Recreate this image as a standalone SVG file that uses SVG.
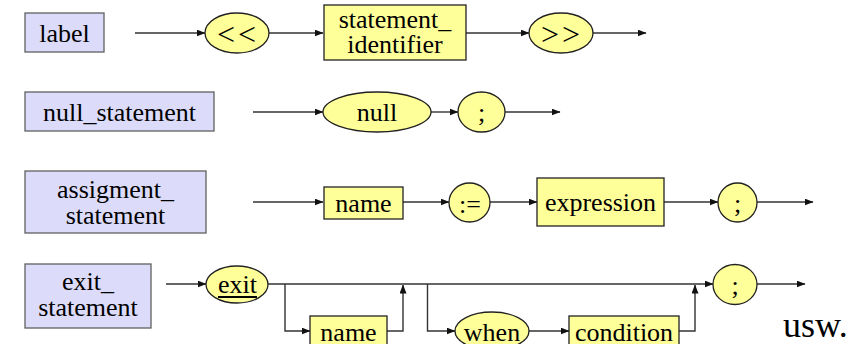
<svg xmlns="http://www.w3.org/2000/svg" width="866" height="344" viewBox="0 0 866 344">
<defs>
<marker id="ah" markerUnits="userSpaceOnUse" markerWidth="9" markerHeight="7" refX="8.5" refY="3.5" orient="auto">
<path d="M0,0 L9,3.5 L0,7 z" fill="#111"/>
</marker>
<style>
.def{fill:#DCDCFA;stroke:#606060;stroke-width:1.3}
.nt{fill:#FFFF99;stroke:#222;stroke-width:1.3}
.t{fill:#FFFF99;stroke:#222;stroke-width:1.3}
.c{fill:none;stroke:#333;stroke-width:1.4;marker-end:url(#ah)}
</style>
</defs>
<rect width="866" height="344" fill="#fff"/>
<g id="connectors">
<line class="c" x1="135" y1="33" x2="205" y2="33"/>
<line class="c" x1="269" y1="33" x2="323" y2="33"/>
<line class="c" x1="466" y1="33" x2="529" y2="33"/>
<line class="c" x1="593" y1="33" x2="646" y2="33"/>
<line class="c" x1="253" y1="112" x2="323" y2="112"/>
<line class="c" x1="431" y1="112" x2="458" y2="112"/>
<line class="c" x1="505" y1="112" x2="560" y2="112"/>
<line class="c" x1="253" y1="202" x2="323" y2="202"/>
<line class="c" x1="403" y1="202" x2="449" y2="202"/>
<line class="c" x1="490" y1="202" x2="537" y2="202"/>
<line class="c" x1="664" y1="202" x2="718" y2="202"/>
<line class="c" x1="757" y1="202" x2="813" y2="202"/>
<line class="c" x1="166" y1="284" x2="206" y2="284"/>
<line class="c" x1="268" y1="284" x2="713" y2="284"/>
<path class="c" d="M285,284 V331 H310"/>
<path class="c" d="M387,331 H403 V285"/>
<path class="c" d="M427.5,284 V331 H455"/>
<line class="c" x1="529" y1="331" x2="569" y2="331"/>
<path class="c" d="M679,331 H695 V285"/>
<line class="c" x1="757" y1="284" x2="805" y2="284"/>
</g>
<g font-family="'Liberation Serif', 'DejaVu Serif', 'Times New Roman', serif" font-size="26" text-anchor="middle" fill="#000">
<g id="label"><rect class="def" x="25" y="13" width="79" height="39"/><text x="64.5" y="42">label</text></g>
<g id="lt"><ellipse class="t" cx="237" cy="33" rx="32" ry="20"/><text x="238" y="45" font-size="32" letter-spacing="3">&lt;&lt;</text></g>
<g id="statement_identifier"><rect class="nt" x="324" y="5" width="142" height="55"/><text x="395" y="28">statement_</text><text x="395" y="53">identifier</text></g>
<g id="gt"><ellipse class="t" cx="561" cy="33" rx="32" ry="20"/><text x="562" y="45" font-size="32" letter-spacing="3">&gt;&gt;</text></g>
<g id="null_statement"><rect class="def" x="25" y="92" width="189" height="39"/><text x="119.5" y="121">null_statement</text></g>
<g id="null"><ellipse class="t" cx="377" cy="112" rx="54" ry="20"/><text x="377" y="121">null</text></g>
<g id="semi1"><ellipse class="t" cx="481.5" cy="112" rx="23.5" ry="20"/><text x="481.5" y="121">;</text></g>
<g id="assigment_statement"><rect class="def" x="25" y="171" width="181" height="62"/><text x="115.5" y="198">assigment_</text><text x="115.5" y="224">statement</text></g>
<g id="name1"><rect class="nt" x="324" y="187" width="79" height="32"/><text x="363.5" y="212">name</text></g>
<g id="assign"><ellipse class="t" cx="469.5" cy="202.5" rx="20.5" ry="19.5"/><text x="470" y="213">:=</text></g>
<g id="expression"><rect class="nt" x="537" y="178" width="127" height="48"/><text x="600.5" y="211">expression</text></g>
<g id="semi2"><ellipse class="t" cx="737.5" cy="202.5" rx="19.5" ry="19.5"/><text x="737.5" y="212">;</text></g>
<g id="exit_statement"><rect class="def" x="25" y="264" width="126" height="64"/><text x="88" y="290">exit_</text><text x="88" y="316">statement</text></g>
<g id="exit"><ellipse class="t" cx="237" cy="284.5" rx="31" ry="18.5"/><text x="237.5" y="293">exit</text><line x1="218" y1="297" x2="257" y2="297" stroke="#000" stroke-width="2"/></g>
<g id="name2"><rect class="nt" x="310" y="316" width="77" height="31"/><text x="348.5" y="341">name</text></g>
<g id="when"><ellipse class="t" cx="492" cy="331" rx="37" ry="19"/><text x="492" y="341">when</text></g>
<g id="condition"><rect class="nt" x="569" y="316" width="110" height="31"/><text x="624" y="341">condition</text></g>
<g id="semi3"><ellipse class="t" cx="735" cy="284.5" rx="22" ry="20"/><text x="735" y="294">;</text></g>
<g id="usw"><text x="783" y="337" font-size="36" text-anchor="start">usw.</text></g>
</g>
</svg>
